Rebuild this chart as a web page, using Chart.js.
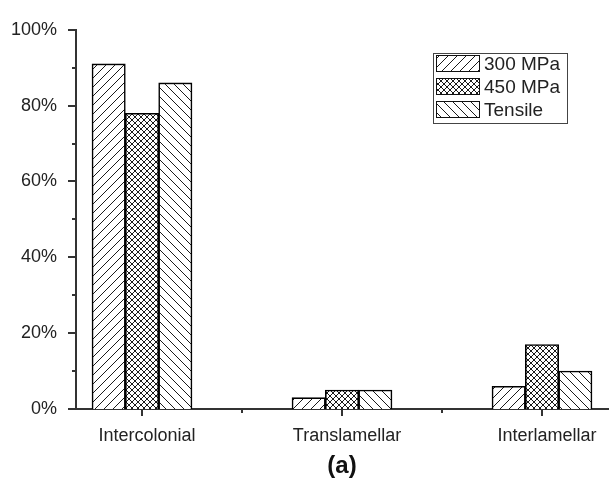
<!DOCTYPE html>
<html>
<head>
<meta charset="utf-8">
<script src="https://cdn.jsdelivr.net/npm/chart.js@4/dist/chart.umd.min.js"></script>
<style>
  html, body { margin: 0; padding: 0; background: #fff; }
  #chart { display: block; }
</style>
</head>
<body>
<canvas id="chart" width="610" height="483"></canvas>
<script>
// Data
const categories = ['Intercolonial', 'Translamellar', 'Interlamellar'];
const seriesNames = ['300 MPa', '450 MPa', 'Tensile'];
const mpa300 = [91, 3, 6];
const mpa450 = [78, 5, 17];
const tensile = [86, 5, 10];
const xTickValues = [1, 1.5, 2, 2.5, 3];

const FONT = "'Liberation Sans', Arial, sans-serif";
const INK = '#222';

/**
 * Build a small hatch tile to use as a fill pattern
 */
function makeHatch(kind, size) {
    const c = document.createElement('canvas');
    c.width = size;
    c.height = size;
    const g = c.getContext('2d');
    g.fillStyle = '#fff';
    g.fillRect(0, 0, size, size);
    g.strokeStyle = '#1a1a1a';
    g.lineWidth = 1;
    g.beginPath();
    if (kind === 'fwd' || kind === 'cross') {
        g.moveTo(-1, size + 1); g.lineTo(size + 1, -1);
        g.moveTo(-1, 1); g.lineTo(1, -1);
        g.moveTo(size - 1, size + 1); g.lineTo(size + 1, size - 1);
    }
    if (kind === 'back' || kind === 'cross') {
        g.moveTo(-1, -1); g.lineTo(size + 1, size + 1);
        g.moveTo(size - 1, -1); g.lineTo(size + 1, 1);
        g.moveTo(-1, size - 1); g.lineTo(1, size + 1);
    }
    g.stroke();
    return document.getElementById('chart').getContext('2d').createPattern(c, 'repeat');
}

const fills = [makeHatch('fwd', 9), makeHatch('cross', 6), makeHatch('back', 9)];

function toPoints(values) {
    return values.map((v, i) => ({ x: i + 1, y: v }));
}

// Tick marks: long for labelled ticks, short for the ones between
const tickMarks = {
    id: 'tickMarks',
    afterDraw(chart) {
        const ctx = chart.ctx;
        const xs = chart.scales.x;
        const ys = chart.scales.y;
        ctx.save();
        ctx.strokeStyle = '#333';
        ctx.lineWidth = 2;
        ctx.beginPath();
        ys.ticks.forEach(t => {
            const y = Math.round(ys.getPixelForValue(t.value));
            const len = t.value % 20 === 0 ? 8 : 4;
            ctx.moveTo(ys.right - len, y);
            ctx.lineTo(ys.right, y);
        });
        xs.ticks.forEach(t => {
            const x = Math.round(xs.getPixelForValue(t.value));
            const len = Number.isInteger(t.value) ? 7 : 4;
            ctx.moveTo(x, xs.top);
            ctx.lineTo(x, xs.top + len);
        });
        ctx.stroke();
        ctx.restore();
    }
};

// Boxed legend inside the plot, top right
const boxedLegend = {
    id: 'boxedLegend',
    afterDraw(chart) {
        const ctx = chart.ctx;
        const left = 433, top = 53, width = 134, height = 70;
        ctx.save();
        ctx.fillStyle = '#fff';
        ctx.fillRect(left, top, width, height);
        ctx.strokeStyle = '#444';
        ctx.lineWidth = 1;
        ctx.strokeRect(left + 0.5, top + 0.5, width, height);
        ctx.font = '19px ' + FONT;
        ctx.textBaseline = 'middle';
        chart.data.datasets.forEach((ds, i) => {
            const y = top + 2 + i * 23;
            ctx.fillStyle = ds.backgroundColor;
            ctx.fillRect(left + 3, y, 43, 16);
            ctx.strokeStyle = '#111';
            ctx.strokeRect(left + 3.5, y + 0.5, 43, 16);
            ctx.fillStyle = INK;
            ctx.fillText(ds.label, left + 51, y + 10);
        });
        ctx.restore();
    }
};

const ctx = document.getElementById('chart').getContext('2d');

new Chart(ctx, {
    type: 'bar',
    data: {
        datasets: [
            { label: seriesNames[0], data: toPoints(mpa300), backgroundColor: fills[0] },
            { label: seriesNames[1], data: toPoints(mpa450), backgroundColor: fills[1] },
            { label: seriesNames[2], data: toPoints(tensile), backgroundColor: fills[2] }
        ]
    },
    options: {
        responsive: false,
        animation: false,
        devicePixelRatio: 1,
        layout: { padding: { top: 15, right: 2, left: 0, bottom: 0 } },
        datasets: {
            bar: {
                borderColor: '#000',
                borderWidth: 1.6,
                categoryPercentage: 1,
                barPercentage: 1
            }
        },
        plugins: {
            legend: { display: false },
            tooltip: { enabled: false }
        },
        scales: {
            x: {
                type: 'linear',
                min: 0.67,
                max: 3.33,
                offset: false,
                afterBuildTicks: scale => {
                    scale.ticks = xTickValues.map(v => ({ value: v }));
                },
                afterFit: scale => { scale.height = 74; },
                grid: { display: false, drawTicks: false },
                border: { display: true, color: '#333', width: 2 },
                ticks: {
                    autoSkip: false,
                    maxRotation: 0,
                    padding: 16,
                    labelOffset: 5,
                    color: INK,
                    font: { family: FONT, size: 18 },
                    callback: v => Number.isInteger(v) ? categories[v - 1] : ''
                },
                title: {
                    display: true,
                    text: '(a)',
                    color: '#111',
                    padding: { top: 0, bottom: 2 },
                    font: { family: FONT, size: 24, weight: 'bold' }
                }
            },
            y: {
                min: 0,
                max: 100,
                afterFit: scale => { scale.width = 76; },
                grid: { display: false, drawTicks: false },
                border: { display: true, color: '#333', width: 2 },
                ticks: {
                    stepSize: 10,
                    padding: 19,
                    color: INK,
                    font: { family: FONT, size: 18 },
                    callback: v => v % 20 === 0 ? v + '%' : ''
                }
            }
        }
    },
    plugins: [tickMarks, boxedLegend]
});
</script>
</body>
</html>
